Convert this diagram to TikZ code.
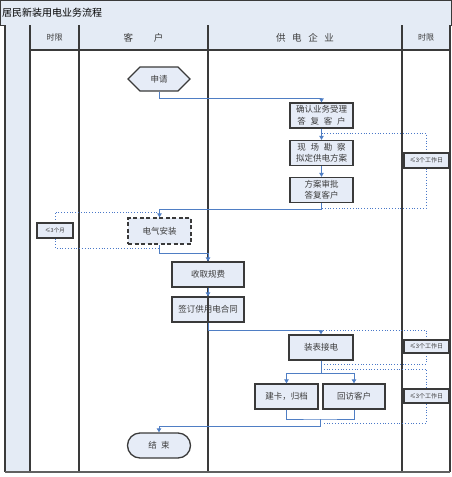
\documentclass[tikz,border=0pt]{standalone}
\usepackage{fontspec}
\setmainfont{Noto Sans CJK SC}
\usetikzlibrary{shapes.symbols,shapes.misc,arrows.meta,calc}
\definecolor{lanefill}{HTML}{E4EBF5}
\definecolor{boxfill}{HTML}{E6ECF7}
\definecolor{framec}{HTML}{3A3A3A}
\definecolor{flowc}{HTML}{4F7EC4}
\definecolor{dotc}{HTML}{4A78C8}
\definecolor{txtc}{HTML}{3C3C3C}
\begin{document}
\begin{tikzpicture}[x=1pt,y=-1pt,
  lane/.style={draw=framec,line width=1.6pt},
  box/.style={draw=framec,fill=boxfill,line width=1.3pt,minimum width=63pt,minimum height=25pt,
    inner sep=0pt,font=\fontsize{8.5}{11.5}\selectfont,text=txtc,align=center},
  flow/.style={draw=flowc,line width=0.9pt,-{Triangle[length=4pt,width=4.5pt]}},
  flowline/.style={draw=flowc,line width=0.9pt},
  dots/.style={draw=dotc,line width=0.8pt,dotted},
  tag/.style={draw=framec,fill=boxfill,line width=1.1pt,inner sep=0pt,
    font=\fontsize{6}{7}\selectfont,text=txtc},
  hdr/.style={font=\fontsize{8}{10}\selectfont,text=txtc}
  ]
\useasboundingbox (0,0) rectangle (452,477);
% frame
\fill[lanefill] (0.5,0.5) rectangle (451,25);
\draw[framec,line width=1pt] (0.5,0.5) rectangle (451,25);
\fill[lanefill] (5,25) rectangle (30,472);
\fill[lanefill] (30,25) rectangle (450,50);
\draw[lane] (5,25) -- (5,472);
\draw[lane] (30,25) -- (30,472);
\draw[lane] (79,25) -- (79,472);
\draw[lane] (208,25) -- (208,472);
\draw[lane] (402,25) -- (402,472);
\draw[lane] (450,25) -- (450,472);
\draw[lane] (30,50) -- (450,50);
\draw[draw=framec!80,line width=1.6pt] (5,472) -- (450,472);

\node[anchor=west,font=\fontsize{10}{12}\selectfont,text=black,inner sep=0pt] (title) at (2,12.5) {居民新装用电业务流程};
\node[hdr] (h1) at (54.5,37.5) {时限};
\node[hdr,font=\fontsize{9.5}{11}\selectfont] (h2) at (143.5,37.5) {客\hspace{2.2em}户};
\node[hdr,font=\fontsize{9.5}{11}\selectfont] (h3) at (305,37.5) {供\hspace{0.7em}电\hspace{0.7em}企\hspace{0.7em}业};
\node[hdr] (h4) at (426,37.5) {时限};

% dotted loops (under the boxes)
\coordinate (d1a) at (321.5,133);
\coordinate (d1b) at (426,133);
\coordinate (d1c) at (426,208);
\coordinate (d1d) at (321.5,208);
\draw[dots] (d1a) -- (d1b) -- (d1c) -- (d1d);
\coordinate (d2a) at (160,212);
\coordinate (d2b) at (55,212);
\coordinate (d2c) at (55,248);
\coordinate (d2d) at (160,248);
\draw[dots] (d2a) -- (d2b) -- (d2c) -- (d2d);
\coordinate (d3a) at (323,330);
\coordinate (d3b) at (426,330);
\coordinate (d3c) at (426,364);
\coordinate (d3d) at (321,364);
\draw[dots] (d3a) -- (d3b) -- (d3c) -- (d3d);
\coordinate (d4a) at (321,369);
\coordinate (d4b) at (426,369);
\coordinate (d4c) at (426,423);
\coordinate (d4d) at (322,423);
\draw[dots] (d4a) -- (d4b) -- (d4c) -- (d4d);

% nodes
\node[signal,signal to=west and east,signal pointer angle=90,draw=framec,fill=boxfill,line width=1.3pt,
  minimum width=62pt,minimum height=24pt,inner sep=0pt,font=\fontsize{8.5}{10}\selectfont,text=txtc] (apply) at (159,79) {申请};
\node[box] (n1) at (321.5,115.5) {确认业务受理\\答\hspace{0.55em}复\hspace{0.55em}客\hspace{0.55em}户};
\node[box] (n2) at (321.5,153) {现\hspace{0.55em}场\hspace{0.55em}勘\hspace{0.55em}察\\拟定供电方案};
\node[box] (n3) at (321.5,190) {方案审批\\答复客户};
\node[box,dashed,dash pattern=on 4pt off 2.5pt,minimum height=26pt] (install) at (159.5,231) {电气安装};
\node[box,minimum width=72pt] (fee) at (208,274.5) {收取规费};
\node[box,minimum width=72pt] (contract) at (208,309.5) {签订供用电合同};
\node[box,minimum width=64pt] (meter) at (321,347.5) {装表接电};
\node[box] (card) at (286.5,396.5) {建卡，归档};
\node[box,minimum width=62pt] (visit) at (354,396.5) {回访客户};
\node[rounded rectangle,draw=framec,fill=boxfill,line width=1.3pt,minimum width=63pt,minimum height=25pt,
  inner sep=0pt,font=\fontsize{8.5}{10}\selectfont,text=txtc] (end) at (159,445.5) {结\hspace{0.5em}束};

% lane line over the contract box
\draw[lane] (contract.north) -- (contract.south);

% tags
\node[tag,minimum width=45pt,minimum height=15pt] (lab1) at (426.5,160.5) {≤3个工作日};
\node[tag,minimum width=36pt,minimum height=15pt,font=\fontsize{5.5}{7}\selectfont] (lab2) at (55,230.5) {≤3个月};
\node[tag,minimum width=45pt,minimum height=13pt] (lab3) at (426.5,346.5) {≤3个工作日};
\node[tag,minimum width=45pt,minimum height=14pt] (lab4) at (426.5,396) {≤3个工作日};

% flow connectors
\draw[flow] (apply.south) -- ++(0,7) -| (n1.north);
\draw[flow] (n1) -- (n2);
\draw[flow] (n2) -- (n3);
\draw[flow] (n3.south) -- ++(0,6.5) -| (install.north);
\draw[flow] (install.south) -- ++(0,9) -| (fee.north);
\draw[flow] (fee) -- (contract);
\draw[flow] (contract.south) -- ++(0,8) -| (meter.north);
\coordinate (split) at (321,373);
\draw[flowline] (meter.south) -- (split);
\draw[flow] (split) -| (card.north);
\draw[flow] (split) -| (visit.north);
\coordinate (join) at (320,419);
\draw[flowline] (card.south) |- (join) -| (visit.south);
\draw[flow] (join) -- ++(0,7) -| (end.north);
\end{tikzpicture}
\end{document}
